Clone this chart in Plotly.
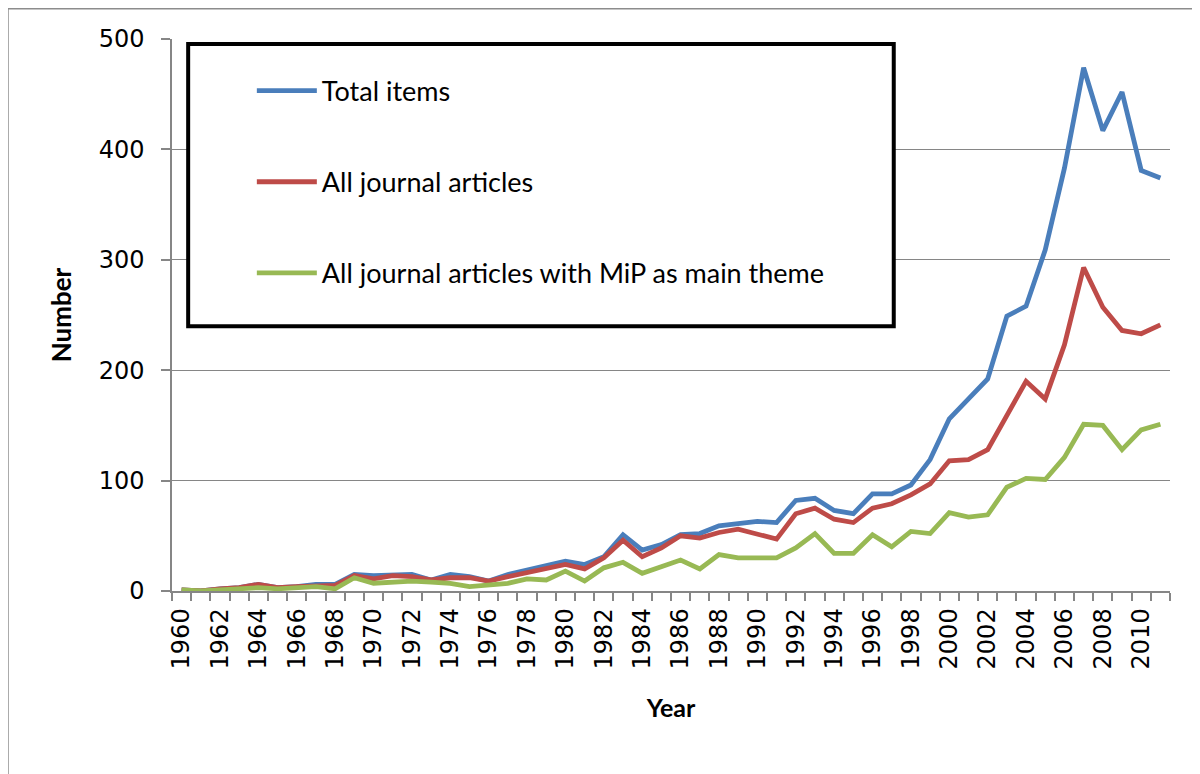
import plotly.graph_objects as go

years = list(range(1960, 2012))

total_items = [1, 0, 2, 3, 6, 3, 4, 6, 6, 15,
               14, 15, 15, 10, 15, 13, 9, 15, 19, 23,
               27, 24, 31, 51, 37, 42, 51, 52, 59, 61,
               63, 62, 82, 84, 73, 70, 88, 88, 96, 119,
               156, 174, 192, 249, 258, 309, 383, 474, 417, 452,
               381, 374]

journal_articles = [1, 0, 2, 3, 6, 3, 4, 5, 5, 14,
                    11, 14, 13, 10, 12, 12, 9, 13, 17, 20,
                    24, 20, 30, 46, 31, 39, 50, 48, 53, 56,
                    52, 47, 70, 75, 65, 62, 75, 79, 87, 97,
                    118, 119, 128, 159, 190, 174, 223, 293, 257, 236,
                    233, 241]

mip_articles = [1, 0, 1, 2, 3, 2, 3, 4, 2, 12,
                7, 8, 9, 8, 7, 4, 5, 7, 11, 10,
                18, 9, 21, 26, 16, 22, 28, 20, 33, 30,
                30, 30, 39, 52, 34, 34, 51, 40, 54, 52,
                71, 67, 69, 94, 102, 101, 121, 151, 150, 128,
                146, 151]

series_names = ["Total items", "All journal articles",
                "All journal articles with MiP as main theme"]
series_colors = ["#4A7EBB", "#BE4B48", "#98B954"]

x_label_years = list(range(1960, 2011, 2))
boundaries = [y - 0.5 for y in range(1960, 2013)]

fig = go.Figure()
for name, vals, col in zip(series_names,
                           [total_items, journal_articles, mip_articles],
                           series_colors):
    fig.add_trace(go.Scatter(
        x=years, y=vals, mode="lines", name=name, legendgroup=name,
        line=dict(color=col, width=4.8),
    ))

axis_gray = "#868686"
title_font = "Lato, Calibri, Liberation Sans"

fig.update_layout(
    width=1192, height=766,
    margin=dict(l=164, r=30, t=31, b=183),
    paper_bgcolor="white", plot_bgcolor="white",
    showlegend=True,
    legend=dict(
        x=0.080, y=0.950, xanchor="left", yanchor="top",
        bgcolor="rgba(0,0,0,0)", borderwidth=0,
        font=dict(family=title_font, size=27, color="#000"),
        tracegroupgap=53, itemwidth=60,
    ),
    xaxis=dict(
        range=[1959.5, 2011.5],
        tickmode="array", tickvals=x_label_years,
        ticktext=[str(y) for y in x_label_years],
        tickangle=-90, ticks="", ticklabelstandoff=6,
        tickfont=dict(family="DejaVu Sans, Verdana", size=24, color="#000"),
        showline=True, linecolor=axis_gray, linewidth=1.5,
        showgrid=False, zeroline=False,
        minor=dict(tickmode="array", tickvals=boundaries, ticks="outside",
                   ticklen=8, tickcolor=axis_gray, tickwidth=1.5, showgrid=False),
        title=dict(text="<b>Year</b>", standoff=31,
                   font=dict(family=title_font, size=25, color="#000")),
        automargin=False,
    ),
    yaxis=dict(
        range=[0, 500], tickmode="linear", tick0=0, dtick=100,
        ticks="outside", ticklen=9, tickcolor=axis_gray, tickwidth=1.5,
        ticklabelstandoff=12,
        tickfont=dict(family="DejaVu Sans, Verdana", size=24, color="#000"),
        showline=True, linecolor=axis_gray, linewidth=1.5,
        showgrid=True, gridcolor=axis_gray, gridwidth=1.2, zeroline=False,
        title=dict(text="<b>Number</b>", standoff=20,
                   font=dict(family=title_font, size=26, color="#000")),
        automargin=False,
    ),
    shapes=[
        dict(type="rect", xref="paper", yref="paper",
             x0=0.0162, x1=0.7232, y0=0.4798, y1=0.9908,
             line=dict(color="black", width=4), fillcolor="white", layer="above"),
        dict(type="rect", xref="paper", yref="paper",
             x0=-0.1646, x1=1.0303, y0=-0.3346, y1=1.0551,
             line=dict(color="#8c8c8c", width=2), fillcolor="rgba(0,0,0,0)", layer="above"),
    ],
)

fig.write_html("out.html")
